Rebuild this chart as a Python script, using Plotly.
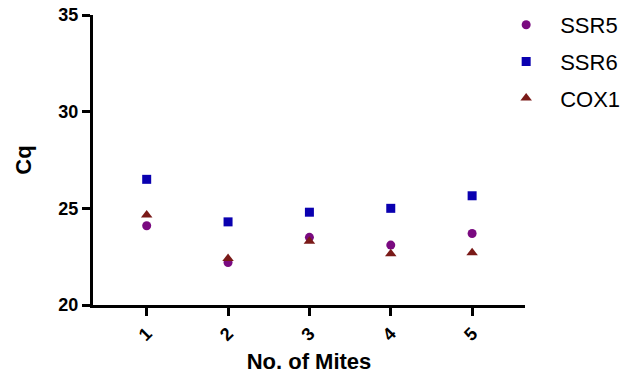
import plotly.graph_objects as go

mites = [1, 2, 3, 4, 5]
ssr5 = [24.1, 22.2, 23.5, 23.1, 23.7]
ssr6 = [26.5, 24.3, 24.8, 25.0, 25.65]
cox1 = [24.65, 22.4, 23.3, 22.65, 22.7]
x_ticks = ["1", "2", "3", "4", "5"]
y_ticks = [20, 25, 30, 35]

FONT = "Liberation Sans, Arial, sans-serif"

fig = go.Figure()
fig.add_trace(go.Scatter(x=mites, y=ssr5, mode="markers", name="SSR5", legendgroup="a",
                         marker=dict(symbol="circle", size=9, color="#7A0A80")))
fig.add_trace(go.Scatter(x=mites, y=ssr6, mode="markers", name="SSR6", legendgroup="b",
                         marker=dict(symbol="square", size=9, color="#0A00B0")))
fig.add_trace(go.Scatter(x=mites, y=cox1, mode="markers", name="COX1", legendgroup="c",
                         marker=dict(symbol="triangle-up", size=10, color="#7A1A18")))

fig.update_layout(
    width=627, height=377,
    margin=dict(l=93, r=102, t=15, b=72, autoexpand=False),
    plot_bgcolor="white", paper_bgcolor="white",
    font=dict(family=FONT, color="black"),
    xaxis=dict(range=[0.34, 5.65], tickvals=mites, ticktext=x_ticks, tickangle=-45,
               showline=True, linecolor="black", linewidth=3, ticks="outside",
               ticklen=8, tickwidth=3, tickcolor="black", showgrid=False, zeroline=False,
               automargin=False, ticklabeloverflow="allow",
               tickfont=dict(family=FONT, size=18, weight="bold"),
               title=dict(text="<b>No. of Mites</b>", font=dict(size=22), standoff=10)),
    yaxis=dict(range=[20, 35], tickvals=y_ticks, showline=True, linecolor="black", linewidth=3,
               ticks="outside", ticklen=8, tickwidth=3, tickcolor="black", showgrid=False,
               zeroline=False, automargin=False, ticklabeloverflow="allow",
               tickfont=dict(family=FONT, size=18, weight="bold"),
               title=dict(text="<b>Cq</b>", font=dict(size=22), standoff=21)),
    legend=dict(x=0.924, y=1.038, xanchor="left", yanchor="top",
                font=dict(size=22), itemwidth=58, tracegroupgap=5,
                bgcolor="rgba(0,0,0,0)"),
)
# remove the browser's default 8px body margin so the figure fills the window
fig.write_html("out.html", config={"displayModeBar": False},
               post_script="document.body.style.margin='0';")
